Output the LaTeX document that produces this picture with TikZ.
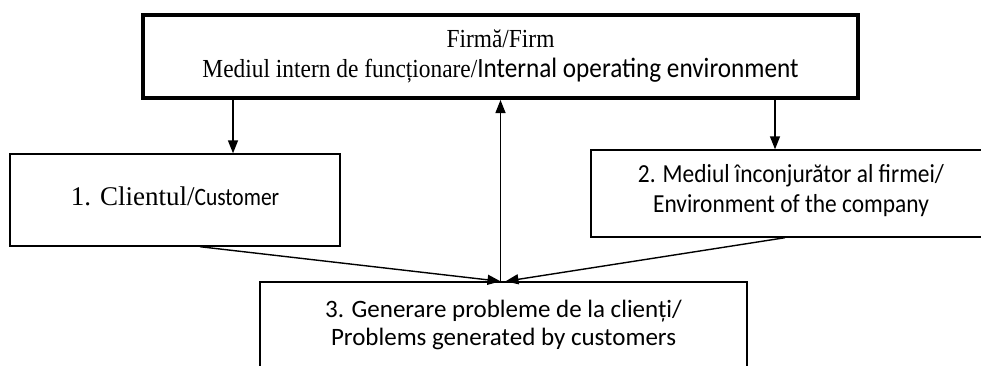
\documentclass[tikz,border=0pt]{standalone}
\usepackage{fontspec}
\setmainfont{Liberation Serif}
\newfontfamily\timescond[FakeStretch=0.9]{Liberation Serif}
\newfontfamily\calibri{Carlito}
\newfontfamily\calibricond[FakeStretch=0.9]{Carlito}
\newfontfamily\calibrinarrow[FakeStretch=0.86]{Carlito}
\usetikzlibrary{arrows.meta,calc}

\begin{document}
\begin{tikzpicture}[x=1pt, y=-1pt, >={Triangle[length=13pt,width=10pt]},
  box/.style={draw, line width=1.4pt, inner sep=0pt, align=center, font=\fontsize{27}{28}\selectfont},
  sbox/.style={box, font=\fontsize{25}{28}\calibri},
  lnk/.style={->, line width=1.4pt}]
\path[use as bounding box, clip] (0,0) rectangle (981,365);
\node[box, font=\fontsize{26}{30}\timescond, line width=4pt, minimum width=715pt, minimum height=83pt] (firm) at (500.5,56.5)
  {Firmă/Firm\\ Mediul intern de funcționare/{\fontsize{28}{30}\calibricond Internal operating environment}};
\node[box, minimum width=330pt, minimum height=92pt, text depth=8pt] (cust) at (175,200)
  {1. Clientul/{\fontsize{25}{28}\calibrinarrow Customer}};
\node[sbox, font=\fontsize{26}{30}\calibricond, minimum width=400pt, minimum height=87pt, text depth=10pt] (env) at (791,193.5)
  {2. Mediul înconjurător al firmei/\\ Environment of the company};
\node[sbox, minimum width=487pt, minimum height=85pt] (prob) at (503.5,324.5)
  {3. Generare probleme de la clienți/\\ Problems generated by customers};
% links
\draw[lnk] (firm.south -| 233,0) -- (cust.north -| 233,0);
\draw[lnk] (firm.south -| 775,0) -- (env.north -| 775,0);
\draw[lnk] (prob.north -| firm.south) -- (firm.south);
\draw[lnk] (cust.south -| 200,0) -- ($(prob.north)+(-3,0)$);
\draw[lnk] (env.south -| 785,0) -- ($(prob.north)+(2,0)$);
\end{tikzpicture}
\end{document}
